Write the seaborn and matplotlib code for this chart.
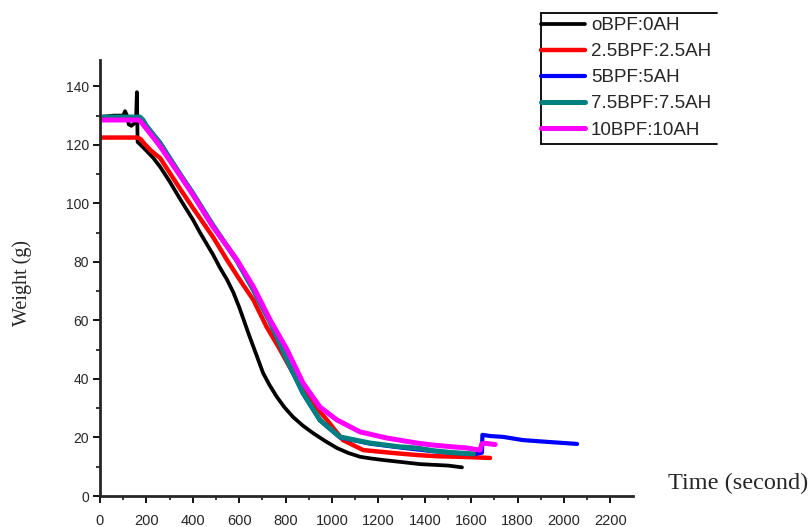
import matplotlib
matplotlib.use("Agg")
import matplotlib.pyplot as plt
from matplotlib.lines import Line2D
from matplotlib.ticker import MultipleLocator
import numpy as np
import pandas as pd
import seaborn as sns

# Weight loss curves (time in seconds, weight in grams)
series_names = ["oBPF:0AH", "2.5BPF:2.5AH", "5BPF:5AH", "7.5BPF:7.5AH", "10BPF:10AH"]
series_colors = ["#000000", "#ff0000", "#0000ff", "#008080", "#ff00ff"]
series_widths = [2.7, 3.2, 3.0, 3.6, 3.6]

t_0 = [0, 60, 100, 108, 116, 124, 135, 150, 156, 159, 162, 175, 200, 230, 259, 300,
       345, 400, 431, 487, 517, 547, 575, 600, 618, 640, 661, 682, 703, 730, 761,
       795, 832, 875, 918, 970, 1021, 1070, 1121, 1170, 1220, 1300, 1379, 1450,
       1500, 1560]
w_0 = [129.5, 130, 130, 131.5, 130, 127, 126.5, 127.5, 130, 138, 121, 120, 118,
       115.5, 112.5, 107.5, 101.5, 94.5, 90, 82.5, 78, 74, 69.5, 64.5, 60.5, 55.5,
       51, 46.5, 42, 38, 34, 30.3, 27, 24, 21.5, 18.8, 16.4, 14.7, 13.4, 12.8, 12.3,
       11.6, 10.9, 10.6, 10.4, 9.8]

t_25 = [0, 100, 160, 175, 190, 220, 259, 300, 345, 400, 487, 547, 603, 661, 718, 776,
        832, 905, 978, 1047, 1134, 1263, 1366, 1450, 1550, 1620, 1681]
w_25 = [122.5, 122.5, 122.5, 122, 120.5, 118, 115.5, 110.5, 105, 98.5, 88.5, 80.7,
        73.8, 67, 57.8, 50, 42, 32.8, 26, 19.1, 15.7, 14.7, 14, 13.6, 13.4, 13.2, 13]

t_5 = [0, 100, 172, 200, 259, 345, 487, 590, 661, 733, 806, 875, 948, 1034, 1164,
       1293, 1435, 1610, 1646, 1648, 1681, 1737, 1823, 1927, 2056]
w_5 = [129.3, 129.3, 129.3, 126.3, 120.8, 109.8, 92.3, 80.3, 70.3, 59.3, 46.3, 35,
       25.8, 20, 17.9, 16.6, 15.3, 14.3, 14.8, 20.9, 20.5, 20.2, 19.1, 18.5, 17.8]

t_75 = [0, 100, 172, 185, 200, 230, 259, 345, 400, 487, 590, 661, 733, 806, 875, 948,
        1034, 1164, 1293, 1366, 1435, 1520, 1610]
w_75 = [129.5, 129.5, 129.5, 128.5, 126.5, 123.5, 120.5, 110, 103.5, 92.5, 80.5,
        70.5, 59.5, 46.5, 35.2, 26, 20.2, 18.1, 16.8, 16.4, 15.5, 14.8, 14.4]

t_10 = [0, 100, 168, 180, 200, 230, 259, 345, 400, 487, 590, 661, 733, 806, 875, 948,
        1021, 1121, 1237, 1366, 1435, 1520, 1582, 1638, 1645, 1660, 1703]
w_10 = [128.5, 128.5, 128.5, 127.5, 125.5, 122.5, 119.5, 109.5, 103, 92, 80.7, 71.5,
        60.2, 50, 38.6, 30.4, 26, 21.9, 19.8, 18.1, 17.4, 16.8, 16.4, 15.7, 17.8, 18,
        17.6]

times = [t_0, t_25, t_5, t_75, t_10]
weights = [w_0, w_25, w_5, w_75, w_10]

frames = []
for name, t, w in zip(series_names, times, weights):
    frames.append(pd.DataFrame({"time": t, "weight": w, "series": name}))
df = pd.concat(frames, ignore_index=True)

sns.set_style("ticks")
plt.rcParams["font.family"] = ["Liberation Sans", "DejaVu Sans"]

W, H = 812, 527
fig = plt.figure(figsize=(W / 100, H / 100), dpi=100)
ax = fig.add_axes([100 / W, 1 - 496 / H, 533 / W, 436 / H])

sns.lineplot(data=df, x="time", y="weight", hue="series", hue_order=series_names,
             palette=dict(zip(series_names, series_colors)), estimator=None,
             sort=False, legend=False, ax=ax)

for line, lw in zip(ax.lines, series_widths):
    line.set_linewidth(lw)

ax.set_xlim(0, 2297)
ax.set_ylim(0, 149)
ax.xaxis.set_major_locator(MultipleLocator(200))
ax.xaxis.set_minor_locator(MultipleLocator(100))
ax.yaxis.set_major_locator(MultipleLocator(20))
ax.yaxis.set_minor_locator(MultipleLocator(10))
ax.set_xticks(np.arange(0, 2201, 200))
ax.set_xlabel("")
ax.set_ylabel("")

sns.despine(ax=ax)
for side in ("left", "bottom"):
    ax.spines[side].set_linewidth(2.0)
ax.tick_params(axis="both", which="major", length=5, width=1.3, direction="out",
               color="black")
ax.tick_params(axis="both", which="minor", length=3, width=1.1, direction="out",
               color="black")
ax.tick_params(axis="x", which="major", labelsize=10.5, pad=8)
ax.tick_params(axis="y", which="major", labelsize=10, pad=3)
ax.grid(False)

fig.text(22 / W, 1 - 283 / H, "Weight (g)", rotation=90, ha="center", va="center",
         fontsize=14.5, family="Liberation Serif")
fig.text(668 / W, 1 - 483 / H, "Time (second)", ha="left", va="center",
         fontsize=17.5, family="Liberation Serif")

leg = fig.legend(handles=list(ax.lines[:5]), labels=series_names, loc="upper left",
                 bbox_to_anchor=(541 / W, 1 - 17 / H), frameon=False, fontsize=13.5,
                 handlelength=44 / 18.75, handletextpad=6 / 18.75, labelspacing=0.48,
                 borderpad=0, borderaxespad=0)

# Open box around the legend: left, top and bottom edges
box_kw = dict(color="black", linewidth=1.3, transform=fig.transFigure)
fig.add_artist(Line2D([541 / W, 541 / W], [1 - 13 / H, 1 - 144 / H], **box_kw))
fig.add_artist(Line2D([541 / W, 717 / W], [1 - 13 / H, 1 - 13 / H], **box_kw))
fig.add_artist(Line2D([541 / W, 717 / W], [1 - 144 / H, 1 - 144 / H], **box_kw))

fig.savefig("out.png", dpi=100)
